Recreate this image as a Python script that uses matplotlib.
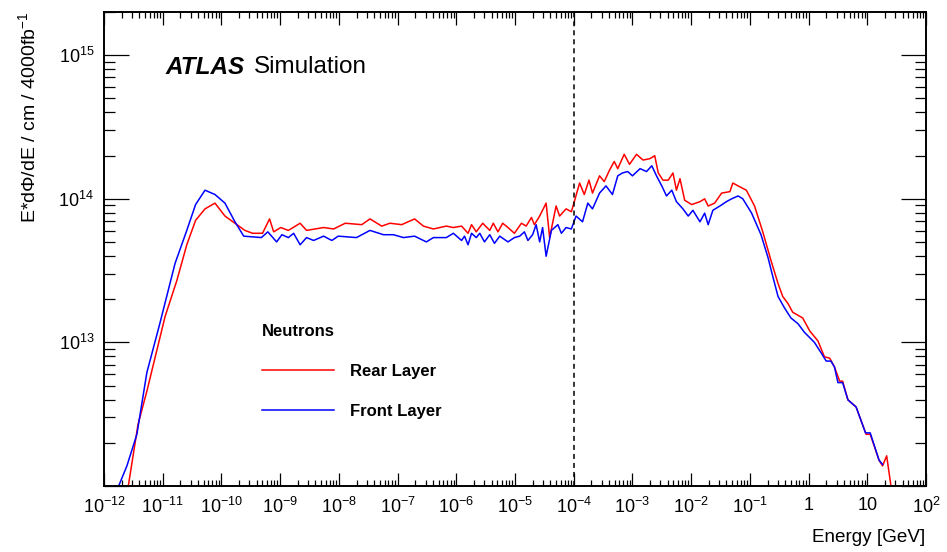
import numpy as np
import matplotlib
matplotlib.use("Agg")
import matplotlib.pyplot as plt
from matplotlib.ticker import FixedLocator, FixedFormatter, LogLocator, NullFormatter

plt.rcParams["font.family"] = ["Liberation Sans", "DejaVu Sans"]
plt.rcParams["mathtext.fontset"] = "custom"
plt.rcParams["mathtext.rm"] = "Liberation Sans"
plt.rcParams["mathtext.it"] = "Liberation Sans:italic"
plt.rcParams["mathtext.bf"] = "Liberation Sans:bold"

# log10(energy / GeV) and log10(flux)
front_log_e = [
    -11.76, -11.61, -11.44, -11.27, -11.05, -10.79, -10.59, -10.44, -10.28, -10.11,
    -9.94, -9.77, -9.62, -9.32, -9.21, -9.06, -8.97, -8.86, -8.77, -8.66,
    -8.55, -8.43, -8.26, -8.12, -8.01, -7.70, -7.47, -7.24, -7.07, -6.90,
    -6.71, -6.51, -6.39, -6.17, -6.05, -5.91, -5.86, -5.80, -5.74, -5.66,
    -5.60, -5.52, -5.43, -5.35, -5.26, -5.12, -5.01, -4.92, -4.84, -4.78,
    -4.70, -4.64, -4.58, -4.53, -4.47, -4.38, -4.27, -4.21, -4.13, -4.04,
    -3.96, -3.85, -3.76, -3.68, -3.56, -3.45, -3.34, -3.25, -3.17, -3.08,
    -3.00, -2.87, -2.76, -2.67, -2.59, -2.50, -2.42, -2.33, -2.25, -2.14,
    -2.05, -1.97, -1.85, -1.77, -1.71, -1.63, -1.51, -1.40, -1.31, -1.20,
    -1.12, -0.97, -0.81, -0.69, -0.61, -0.52, -0.41, -0.30, -0.18, -0.07,
    0.10, 0.21, 0.30, 0.38, 0.44, 0.50, 0.58, 0.67, 0.81, 0.97,
    1.05, 1.20, 1.26,
]
front_log_flux = [
    11.99, 12.14, 12.36, 12.79, 13.13, 13.55, 13.78, 13.96, 14.06, 14.03,
    13.97, 13.84, 13.74, 13.73, 13.77, 13.70, 13.75, 13.73, 13.76, 13.68,
    13.73, 13.71, 13.74, 13.71, 13.74, 13.73, 13.78, 13.75, 13.75, 13.73,
    13.74, 13.70, 13.73, 13.73, 13.76, 13.71, 13.74, 13.68, 13.76, 13.73,
    13.76, 13.70, 13.75, 13.69, 13.74, 13.70, 13.73, 13.74, 13.77, 13.71,
    13.75, 13.82, 13.70, 13.80, 13.60, 13.78, 13.82, 13.76, 13.80, 13.79,
    13.88, 13.84, 13.97, 13.93, 14.04, 14.09, 14.03, 14.16, 14.18, 14.19,
    14.16, 14.21, 14.19, 14.23, 14.16, 14.09, 14.02, 14.06, 13.98, 13.93,
    13.88, 13.92, 13.84, 13.90, 13.82, 13.92, 13.95, 13.98, 14.00, 14.02,
    14.00, 13.90, 13.75, 13.59, 13.46, 13.32, 13.24, 13.17, 13.13, 13.07,
    13.00, 12.93, 12.87, 12.87, 12.83, 12.72, 12.72, 12.60, 12.55, 12.37,
    12.37, 12.18, 12.15,
]

rear_log_e = [
    -11.59, -11.42, -11.27, -10.96, -10.76, -10.59, -10.44, -10.28, -10.11, -9.94,
    -9.77, -9.60, -9.47, -9.30, -9.18, -9.11, -8.99, -8.86, -8.66, -8.55,
    -8.26, -8.09, -7.89, -7.61, -7.47, -7.27, -7.13, -6.93, -6.71, -6.56,
    -6.39, -6.17, -6.05, -5.91, -5.80, -5.74, -5.66, -5.55, -5.43, -5.37,
    -5.29, -5.21, -5.12, -5.01, -4.89, -4.81, -4.72, -4.67, -4.58, -4.47,
    -4.41, -4.30, -4.24, -4.13, -4.04, -3.99, -3.90, -3.82, -3.74, -3.68,
    -3.56, -3.48, -3.39, -3.31, -3.25, -3.14, -3.05, -2.93, -2.82, -2.70,
    -2.62, -2.56, -2.48, -2.39, -2.31, -2.25, -2.19, -2.11, -1.99, -1.85,
    -1.77, -1.71, -1.60, -1.48, -1.34, -1.29, -1.20, -1.06, -0.92, -0.78,
    -0.64, -0.52, -0.44, -0.35, -0.27, -0.10, 0.02, 0.16, 0.27, 0.36,
    0.44, 0.53, 0.58, 0.67, 0.81, 0.98, 1.05, 1.20, 1.26, 1.33,
    1.40, 1.42,
]
rear_log_flux = [
    11.99, 12.43, 12.66, 13.18, 13.43, 13.68, 13.85, 13.93, 13.97, 13.88,
    13.83, 13.78, 13.76, 13.76, 13.86, 13.77, 13.80, 13.78, 13.83, 13.78,
    13.80, 13.79, 13.83, 13.82, 13.86, 13.81, 13.83, 13.82, 13.86, 13.81,
    13.79, 13.81, 13.80, 13.81, 13.76, 13.82, 13.77, 13.83, 13.78, 13.83,
    13.77, 13.83, 13.80, 13.76, 13.83, 13.81, 13.87, 13.82, 13.88, 13.97,
    13.73, 13.95, 13.88, 13.93, 13.91, 13.98, 14.11, 14.03, 14.13, 14.04,
    14.16, 14.12, 14.20, 14.26, 14.21, 14.31, 14.24, 14.31, 14.27, 14.28,
    14.30, 14.18, 14.13, 14.13, 14.18, 14.06, 14.14, 13.99, 13.96, 13.98,
    14.00, 13.95, 13.97, 14.04, 14.05, 14.11, 14.09, 14.06, 13.95, 13.77,
    13.57, 13.41, 13.32, 13.27, 13.21, 13.17, 13.08, 13.01, 12.90, 12.89,
    12.83, 12.73, 12.73, 12.60, 12.55, 12.36, 12.36, 12.18, 12.14, 12.21,
    12.01, 11.85,
]

x_decades = list(range(-12, 3))
x_labels = [r"$\mathregular{10^{%d}}$" % k for k in range(-12, 0)] + ["1", "10", r"$\mathregular{10^{2}}$"]
y_decades = [12, 13, 14, 15]
y_labels = ["", r"$\mathregular{10^{13}}$", r"$\mathregular{10^{14}}$", r"$\mathregular{10^{15}}$"]

fig = plt.figure(figsize=(9.47, 5.52), dpi=100)
ax = fig.add_axes([104 / 947, 66 / 552, 822 / 947, 474 / 552])

ax.plot(10.0 ** np.array(rear_log_e), 10.0 ** np.array(rear_log_flux), color="#ff0000", lw=1.1, label="Rear Layer")
ax.plot(10.0 ** np.array(front_log_e), 10.0 ** np.array(front_log_flux), color="#0000ff", lw=1.1, label="Front Layer")
ax.axvline(1e-4, color="black", lw=1.1, ls=(0, (3.3, 2.6)))

ax.set_xscale("log")
ax.set_yscale("log")
ax.set_xlim(1e-12, 1e2)
ax.set_ylim(1e12, 2e15)

ax.xaxis.set_major_locator(FixedLocator([10.0 ** k for k in x_decades]))
ax.xaxis.set_major_formatter(FixedFormatter(x_labels))
ax.xaxis.set_minor_locator(LogLocator(base=10, subs=np.arange(2, 10), numticks=40))
ax.xaxis.set_minor_formatter(NullFormatter())
ax.yaxis.set_major_locator(FixedLocator([10.0 ** k for k in y_decades]))
ax.yaxis.set_major_formatter(FixedFormatter(y_labels))
ax.yaxis.set_minor_locator(LogLocator(base=10, subs=np.arange(2, 10), numticks=40))
ax.yaxis.set_minor_formatter(NullFormatter())

ax.tick_params(which="both", direction="in", top=True, right=True, width=0.9, labelsize=13, colors="black")
ax.tick_params(axis="x", which="major", length=9.7, pad=8)
ax.tick_params(axis="x", which="minor", length=4.3)
ax.tick_params(axis="y", which="major", length=18, pad=7)
ax.tick_params(axis="y", which="minor", length=8)
for sp in ax.spines.values():
    sp.set_linewidth(1.4)

fig.text(28 / 947, 1 - 12 / 552, r"E*dΦ/dE / cm / 4000fb$^{\mathregular{-1}}$", rotation=90,
         ha="center", va="top", fontsize=14)
fig.text(925 / 947, 1 - 537 / 552, "Energy [GeV]", ha="right", va="center", fontsize=13.6)

fig.text(165 / 947, 1 - 67 / 552, "ATLAS", fontsize=17.5, fontweight="bold", fontstyle="italic",
         ha="left", va="center")
fig.text(254 / 947, 1 - 67 / 552, "Simulation", fontsize=17.5, ha="left", va="center")

leg = ax.legend(loc="upper left", bbox_to_anchor=(262 / 947, 1 - 324 / 552), bbox_transform=fig.transFigure,
                frameon=False, title="Neutrons", alignment="left",
                prop={"weight": "bold", "size": 12}, title_fontproperties={"weight": "bold", "size": 12},
                handlelength=4.3, handletextpad=1.0, labelspacing=1.5, borderpad=0, borderaxespad=0)

fig.savefig("out.png", dpi=100)
